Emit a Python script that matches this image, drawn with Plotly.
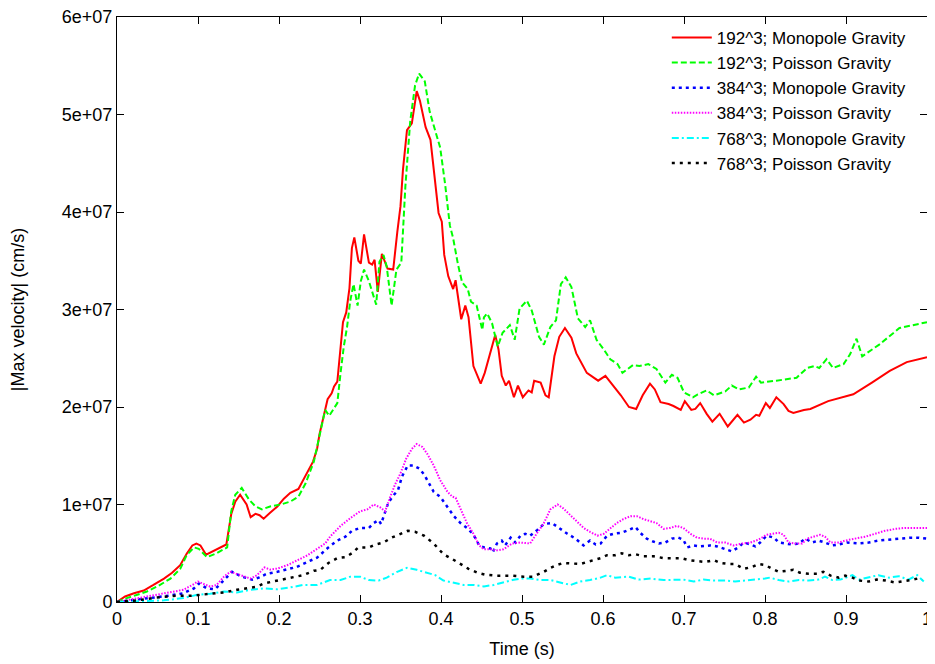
import plotly.graph_objects as go

# ---------------- data (time in s, velocity in units of 1e7 cm/s) ----------------
t_192_mono = [0, 0.010, 0.021, 0.033, 0.045, 0.058, 0.068, 0.078, 0.086, 0.093, 0.098, 0.103, 0.110, 0.121,
              0.135, 0.141, 0.146, 0.152, 0.160, 0.165, 0.171, 0.176, 0.181, 0.189, 0.198, 0.206, 0.214,
              0.224, 0.230, 0.237, 0.242, 0.247, 0.250, 0.255, 0.260, 0.265, 0.268, 0.272, 0.275, 0.279,
              0.283, 0.287, 0.290, 0.293, 0.298, 0.301, 0.305, 0.311, 0.315, 0.318, 0.322, 0.327, 0.334,
              0.341, 0.346, 0.350, 0.353, 0.358, 0.364, 0.370, 0.374, 0.381, 0.387, 0.397, 0.401, 0.404,
              0.409, 0.415, 0.418, 0.425, 0.430, 0.434, 0.440, 0.446, 0.449, 0.454, 0.461, 0.467, 0.471,
              0.475, 0.480, 0.484, 0.490, 0.495, 0.501, 0.508, 0.512, 0.515, 0.523, 0.529, 0.533, 0.540,
              0.546, 0.553, 0.561, 0.567, 0.580, 0.594, 0.603, 0.615, 0.622, 0.632, 0.641, 0.649, 0.658,
              0.664, 0.671, 0.681, 0.687, 0.696, 0.701, 0.709, 0.714, 0.720, 0.728, 0.735, 0.744, 0.754,
              0.766, 0.774, 0.782, 0.789, 0.793, 0.801, 0.806, 0.814, 0.823, 0.829, 0.835, 0.848, 0.856,
              0.878, 0.909, 0.932, 0.954, 0.975, 1.000]
v_192_mono = [0, 0.057, 0.09, 0.118, 0.175, 0.24, 0.30, 0.377, 0.495, 0.58, 0.60, 0.58, 0.485, 0.535,
              0.59, 0.90, 1.03, 1.10, 1.00, 0.87, 0.905, 0.89, 0.855, 0.915, 0.98, 1.06, 1.12,
              1.16, 1.25, 1.35, 1.44, 1.57, 1.72, 1.90, 2.08, 2.14, 2.21, 2.26, 2.55, 2.87,
              2.97, 3.22, 3.63, 3.74, 3.50, 3.47, 3.77, 3.48, 3.46, 3.51, 3.18, 3.57, 3.42,
              3.41, 3.79, 4.06, 4.43, 4.84, 4.91, 5.24, 5.14, 4.87, 4.74, 3.99, 3.90, 3.56,
              3.34, 3.21, 3.30, 2.90, 3.04, 2.92, 2.42, 2.29, 2.24, 2.35, 2.55, 2.74, 2.59,
              2.32, 2.22, 2.27, 2.10, 2.22, 2.10, 2.17, 2.15, 2.27, 2.25, 2.12, 2.10, 2.52,
              2.72, 2.81, 2.71, 2.55, 2.35, 2.27, 2.32, 2.20, 2.12, 2.00, 1.98, 2.12, 2.24,
              2.18, 2.05, 2.03, 2.01, 1.97, 2.06, 1.97, 1.98, 2.04, 1.93, 1.85, 1.93, 1.80,
              1.92, 1.84, 1.87, 1.92, 1.91, 2.04, 1.99, 2.10, 2.03, 1.96, 1.94, 1.97, 1.98,
              2.06, 2.13, 2.25, 2.37, 2.46, 2.51]

t_192_pois = [0, 0.012, 0.025, 0.037, 0.051, 0.066, 0.078, 0.086, 0.095, 0.101, 0.111, 0.123, 0.136,
              0.141, 0.146, 0.154, 0.163, 0.171, 0.179, 0.189, 0.202, 0.214, 0.224, 0.233, 0.243, 0.249,
              0.257, 0.262, 0.267, 0.272, 0.276, 0.280, 0.284, 0.288, 0.292, 0.297, 0.301, 0.305, 0.311,
              0.316, 0.320, 0.324, 0.329, 0.333, 0.339, 0.345, 0.351, 0.356, 0.362, 0.368, 0.373, 0.380,
              0.386, 0.393, 0.399, 0.405, 0.411, 0.415, 0.421, 0.426, 0.430, 0.433, 0.437, 0.444, 0.451,
              0.453, 0.457, 0.463, 0.470, 0.476, 0.485, 0.491, 0.497, 0.506, 0.512, 0.521, 0.527, 0.535,
              0.542, 0.548, 0.554, 0.561, 0.569, 0.578, 0.584, 0.592, 0.601, 0.609, 0.618, 0.624, 0.637,
              0.645, 0.656, 0.666, 0.677, 0.685, 0.692, 0.700, 0.711, 0.717, 0.728, 0.737, 0.751, 0.759,
              0.768, 0.780, 0.789, 0.795, 0.814, 0.839, 0.852, 0.861, 0.867, 0.876, 0.884, 0.897, 0.905,
              0.913, 0.920, 0.941, 0.966, 1.000]
v_192_pois = [0, 0.04, 0.074, 0.108, 0.165, 0.24, 0.34, 0.48, 0.56, 0.545, 0.46, 0.50, 0.56,
              0.93, 1.10, 1.17, 1.05, 0.98, 0.95, 0.98, 1.00, 1.03, 1.08, 1.22, 1.44, 1.67,
              1.97, 1.91, 1.98, 2.04, 2.35, 2.62, 2.82, 3.09, 3.26, 3.04, 3.29, 3.41, 3.29,
              3.15, 3.05, 3.49, 3.56, 3.44, 3.04, 3.41, 3.48, 4.26, 4.93, 5.30, 5.42, 5.34,
              5.03, 4.83, 4.66, 4.29, 3.86, 3.73, 3.46, 3.28, 3.24, 3.21, 3.08, 3.04, 2.79,
              2.92, 2.96, 2.86, 2.62, 2.76, 2.84, 2.69, 3.01, 3.09, 2.99, 2.72, 2.64, 2.82,
              2.89, 3.26, 3.33, 3.23, 2.91, 2.82, 2.89, 2.69, 2.59, 2.49, 2.44, 2.35, 2.43,
              2.42, 2.44, 2.39, 2.25, 2.33, 2.30, 2.15, 2.10, 2.13, 2.17, 2.12, 2.16, 2.22,
              2.18, 2.20, 2.31, 2.25, 2.27, 2.30, 2.40, 2.42, 2.40, 2.49, 2.40, 2.44, 2.54,
              2.70, 2.52, 2.64, 2.81, 2.87]

t_384_mono = [0, 0.033, 0.049, 0.066, 0.082, 0.095, 0.101, 0.111, 0.121, 0.132, 0.142, 0.154, 0.167,
              0.175, 0.185, 0.198, 0.210, 0.222, 0.235, 0.247, 0.261, 0.272, 0.282, 0.290, 0.300, 0.311,
              0.317, 0.323, 0.326, 0.329, 0.335, 0.342, 0.347, 0.352, 0.359, 0.366, 0.373, 0.379, 0.385,
              0.391, 0.399, 0.408, 0.416, 0.424, 0.432, 0.438, 0.443, 0.447, 0.453, 0.461, 0.464, 0.469,
              0.475, 0.479, 0.486, 0.492, 0.498, 0.504, 0.510, 0.519, 0.527, 0.537, 0.545, 0.556, 0.566,
              0.576, 0.584, 0.591, 0.597, 0.605, 0.613, 0.623, 0.632, 0.640, 0.646, 0.654, 0.662, 0.669,
              0.677, 0.685, 0.693, 0.699, 0.704, 0.712, 0.720, 0.732, 0.741, 0.751, 0.759, 0.767, 0.774,
              0.782, 0.788, 0.794, 0.802, 0.811, 0.817, 0.825, 0.833, 0.842, 0.850, 0.858, 0.866, 0.874,
              0.883, 0.891, 0.901, 0.915, 0.928, 0.940, 0.953, 0.965, 0.981, 0.990, 1.000]
v_384_mono = [0, 0.03, 0.047, 0.067, 0.09, 0.14, 0.19, 0.14, 0.13, 0.225, 0.31, 0.26, 0.23,
              0.25, 0.29, 0.31, 0.333, 0.36, 0.41, 0.455, 0.56, 0.63, 0.67, 0.73, 0.76, 0.76,
              0.81, 0.84, 0.80, 0.87, 1.02, 1.10, 1.15, 1.29, 1.40, 1.40, 1.37, 1.31, 1.22,
              1.13, 1.08, 0.97, 0.88, 0.81, 0.76, 0.71, 0.65, 0.58, 0.56, 0.55, 0.51, 0.60,
              0.63, 0.58, 0.66, 0.61, 0.68, 0.70, 0.68, 0.74, 0.80, 0.81, 0.76, 0.70, 0.65,
              0.58, 0.63, 0.59, 0.60, 0.68, 0.70, 0.71, 0.74, 0.77, 0.71, 0.65, 0.62, 0.60,
              0.61, 0.65, 0.66, 0.64, 0.56, 0.58, 0.57, 0.58, 0.57, 0.54, 0.52, 0.56, 0.61,
              0.59, 0.57, 0.61, 0.68, 0.66, 0.61, 0.60, 0.59, 0.60, 0.65, 0.61, 0.63, 0.61,
              0.58, 0.59, 0.61, 0.60, 0.61, 0.63, 0.64, 0.65, 0.66, 0.66, 0.65]

t_384_pois = [0, 0.016, 0.033, 0.049, 0.066, 0.082, 0.093, 0.100, 0.107, 0.115, 0.123, 0.132, 0.140,
              0.148, 0.156, 0.165, 0.173, 0.182, 0.189, 0.198, 0.210, 0.222, 0.235, 0.247, 0.257, 0.263,
              0.276, 0.288, 0.300, 0.309, 0.317, 0.325, 0.331, 0.337, 0.343, 0.350, 0.357, 0.364, 0.370,
              0.377, 0.383, 0.391, 0.399, 0.408, 0.414, 0.418, 0.424, 0.432, 0.440, 0.447, 0.453, 0.461,
              0.469, 0.477, 0.488, 0.498, 0.510, 0.519, 0.527, 0.535, 0.544, 0.551, 0.560, 0.568, 0.576,
              0.584, 0.593, 0.601, 0.609, 0.617, 0.625, 0.634, 0.642, 0.650, 0.658, 0.666, 0.675, 0.683,
              0.691, 0.699, 0.708, 0.716, 0.724, 0.732, 0.741, 0.751, 0.761, 0.772, 0.782, 0.792, 0.802,
              0.810, 0.817, 0.823, 0.829, 0.837, 0.846, 0.852, 0.860, 0.868, 0.874, 0.881, 0.891, 0.899,
              0.911, 0.924, 0.936, 0.948, 0.961, 0.973, 0.986, 1.000]
v_384_pois = [0, 0.024, 0.05, 0.074, 0.098, 0.125, 0.175, 0.21, 0.185, 0.158, 0.175, 0.26, 0.31,
              0.29, 0.266, 0.24, 0.276, 0.354, 0.333, 0.343, 0.377, 0.428, 0.478, 0.545, 0.60, 0.67,
              0.78, 0.86, 0.93, 0.95, 1.00, 0.97, 0.93, 1.07, 1.20, 1.32, 1.47, 1.57, 1.62,
              1.59, 1.52, 1.40, 1.25, 1.13, 1.08, 1.07, 0.95, 0.81, 0.70, 0.58, 0.54, 0.54,
              0.53, 0.54, 0.60, 0.61, 0.60, 0.71, 0.81, 0.95, 1.00, 0.96, 0.89, 0.83, 0.76,
              0.72, 0.68, 0.70, 0.76, 0.81, 0.85, 0.88, 0.88, 0.85, 0.83, 0.81, 0.75, 0.76,
              0.78, 0.76, 0.70, 0.66, 0.65, 0.65, 0.61, 0.61, 0.58, 0.60, 0.61, 0.64, 0.69,
              0.70, 0.71, 0.69, 0.61, 0.60, 0.60, 0.65, 0.67, 0.69, 0.67, 0.61, 0.61, 0.63,
              0.65, 0.67, 0.70, 0.73, 0.75, 0.76, 0.76, 0.76]

t_768_mono = [0, 0.033, 0.058, 0.082, 0.099, 0.115, 0.132, 0.148, 0.165, 0.181, 0.198, 0.214, 0.230,
              0.247, 0.263, 0.276, 0.288, 0.300, 0.311, 0.323, 0.333, 0.346, 0.358, 0.370, 0.383, 0.393,
              0.403, 0.416, 0.428, 0.440, 0.453, 0.465, 0.475, 0.488, 0.498, 0.510, 0.523, 0.535, 0.547,
              0.560, 0.572, 0.584, 0.597, 0.605, 0.615, 0.632, 0.644, 0.659, 0.675, 0.687, 0.699, 0.712,
              0.724, 0.737, 0.751, 0.763, 0.776, 0.788, 0.800, 0.806, 0.817, 0.829, 0.842, 0.854, 0.866,
              0.874, 0.883, 0.893, 0.908, 0.916, 0.928, 0.940, 0.953, 0.965, 0.977, 0.988, 0.996]
v_768_mono = [0, 0.007, 0.017, 0.04, 0.074, 0.084, 0.108, 0.098, 0.125, 0.14, 0.13, 0.15, 0.175,
              0.175, 0.225, 0.225, 0.26, 0.26, 0.225, 0.22, 0.25, 0.31, 0.35, 0.33, 0.30, 0.275,
              0.22, 0.20, 0.175, 0.175, 0.16, 0.175, 0.20, 0.225, 0.24, 0.24, 0.225, 0.225, 0.20,
              0.175, 0.21, 0.225, 0.25, 0.275, 0.25, 0.26, 0.23, 0.24, 0.225, 0.23, 0.23, 0.21,
              0.23, 0.22, 0.22, 0.21, 0.22, 0.225, 0.24, 0.25, 0.225, 0.21, 0.225, 0.22, 0.23,
              0.26, 0.225, 0.23, 0.275, 0.23, 0.25, 0.275, 0.25, 0.265, 0.23, 0.275, 0.21]

t_768_pois = [0, 0.025, 0.053, 0.074, 0.091, 0.103, 0.119, 0.132, 0.148, 0.160, 0.173, 0.181, 0.193,
              0.206, 0.218, 0.230, 0.243, 0.251, 0.261, 0.272, 0.282, 0.290, 0.298, 0.311, 0.319, 0.329,
              0.339, 0.350, 0.359, 0.368, 0.379, 0.391, 0.403, 0.414, 0.424, 0.434, 0.445, 0.455, 0.469,
              0.486, 0.502, 0.514, 0.519, 0.527, 0.535, 0.543, 0.551, 0.564, 0.572, 0.580, 0.588, 0.597,
              0.605, 0.615, 0.623, 0.632, 0.640, 0.650, 0.662, 0.675, 0.687, 0.697, 0.706, 0.716, 0.726,
              0.737, 0.745, 0.755, 0.763, 0.774, 0.784, 0.792, 0.800, 0.809, 0.817, 0.827, 0.835, 0.843,
              0.854, 0.864, 0.872, 0.881, 0.891, 0.899, 0.908, 0.916, 0.928, 0.938, 0.949, 0.961, 0.971,
              0.980, 0.988, 0.994]
v_768_pois = [0, 0.017, 0.05, 0.064, 0.064, 0.074, 0.084, 0.098, 0.125, 0.14, 0.158, 0.19, 0.21,
              0.232, 0.25, 0.276, 0.32, 0.33, 0.40, 0.45, 0.46, 0.50, 0.56, 0.56, 0.59, 0.61,
              0.66, 0.70, 0.73, 0.72, 0.68, 0.60, 0.49, 0.44, 0.39, 0.34, 0.30, 0.28, 0.27,
              0.27, 0.26, 0.26, 0.28, 0.31, 0.35, 0.38, 0.40, 0.39, 0.39, 0.41, 0.43, 0.45,
              0.48, 0.48, 0.50, 0.48, 0.49, 0.47, 0.47, 0.45, 0.45, 0.45, 0.43, 0.42, 0.41,
              0.43, 0.40, 0.39, 0.39, 0.34, 0.36, 0.39, 0.38, 0.34, 0.31, 0.32, 0.33, 0.30,
              0.29, 0.29, 0.31, 0.27, 0.25, 0.27, 0.25, 0.22, 0.21, 0.23, 0.22, 0.20, 0.21,
              0.225, 0.24, 0.225]

SCALE = 1e7

x_tick_vals = [0, 0.1, 0.2, 0.3, 0.4, 0.5, 0.6, 0.7, 0.8, 0.9, 1.0]
x_tick_text = ["0", "0.1", "0.2", "0.3", "0.4", "0.5", "0.6", "0.7", "0.8", "0.9", "1"]
y_tick_vals = [0, 1e7, 2e7, 3e7, 4e7, 5e7, 6e7]
y_tick_text = ["0", "1e+07", "2e+07", "3e+07", "4e+07", "5e+07", "6e+07"]

series = [
    ("192^3; Monopole Gravity", t_192_mono, v_192_mono, "#FF0000", "solid", 2),
    ("192^3; Poisson Gravity", t_192_pois, v_192_pois, "#00FF00", "6px,3px", 2),
    ("384^3; Monopole Gravity", t_384_mono, v_384_mono, "#0000FF", "3px,4px", 2.5),
    ("384^3; Poisson Gravity", t_384_pois, v_384_pois, "#FF00FF", "1.5px,1.5px", 2),
    ("768^3; Monopole Gravity", t_768_mono, v_768_mono, "#00FFFF", "7px,3px,2px,3px", 2),
    ("768^3; Poisson Gravity", t_768_pois, v_768_pois, "#000000", "3px,5px", 2.5),
]

FONT = "Liberation Sans, Arial, sans-serif"

fig = go.Figure()
for name, t, v, color, dash, w in series:
    fig.add_trace(go.Scatter(
        x=t, y=[val * SCALE for val in v], mode="lines", name=name,
        line=dict(color=color, dash=dash, width=w),
    ))

axis_common = dict(
    showline=True, linecolor="black", linewidth=1, mirror="ticks",
    ticks="inside", ticklen=7, tickwidth=1, tickcolor="black",
    showgrid=False, zeroline=False, automargin=False,
    ticklabeloverflow="allow",
    tickfont=dict(family=FONT, size=18, color="black"),
)

fig.update_xaxes(range=[0, 1], tickvals=x_tick_vals, ticktext=x_tick_text,
                 title=dict(text="Time (s)", font=dict(family=FONT, size=18, color="black"), standoff=14),
                 **axis_common)
fig.update_yaxes(range=[0, 6e7], tickvals=y_tick_vals, ticktext=y_tick_text,
                 title=dict(text="|Max velocity| (cm/s)", font=dict(family=FONT, size=18, color="black"), standoff=33),
                 **axis_common)

# the page adds an 8px body margin, so the figure is sized to fit the 935x664 window
fig.update_layout(
    width=927, height=656,
    margin=dict(l=109, r=8, t=9, b=62),
    plot_bgcolor="white", paper_bgcolor="white",
    font=dict(family=FONT, size=18, color="black"),
    legend=dict(x=0.98, y=0.995, xanchor="right", yanchor="top",
                bgcolor="rgba(0,0,0,0)", borderwidth=0,
                font=dict(family=FONT, size=17, color="black"),
                tracegroupgap=0, itemwidth=40),
    showlegend=True,
)

fig.write_html("out.html")
